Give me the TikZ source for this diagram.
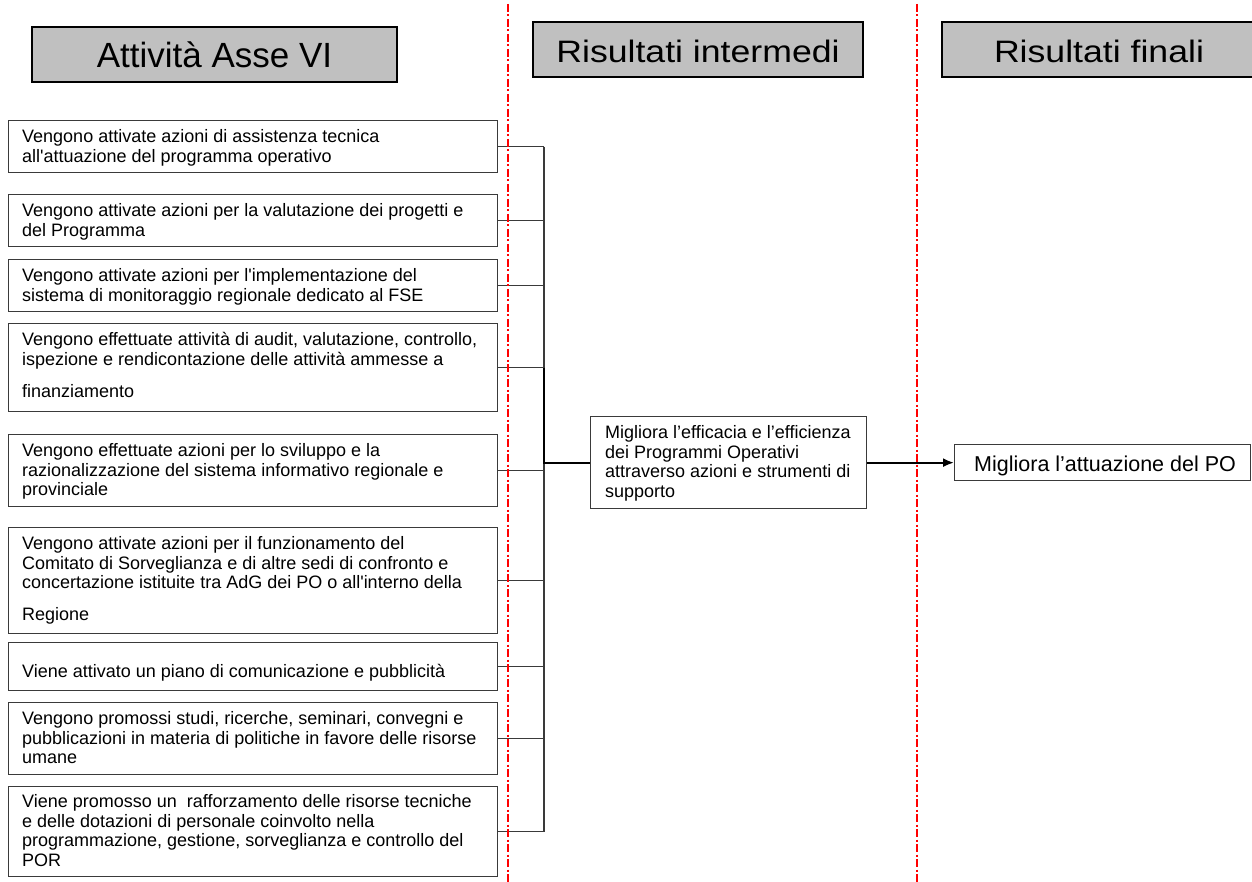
\documentclass[tikz,border=0pt]{standalone}
\usepackage{fontspec}
\setmainfont{Liberation Sans}
\usetikzlibrary{arrows.meta}
\definecolor{hdrgray}{HTML}{C0C0C0}
\definecolor{linegray}{HTML}{3A3A3A}
\definecolor{sepred}{HTML}{FF0000}
\newcommand{\sq}{\textquotesingle}
\tikzset{
  hdr/.style={draw=black, line width=2pt, fill=hdrgray, inner sep=0pt, text height=27pt, text depth=0pt},
  abox/.style={draw=linegray, line width=1.3pt, inner sep=0pt, anchor=north west},
  btxt/.style={anchor=base west, align=left, inner sep=0pt, font=\fontsize{18}{19.7}\selectfont},
  conn/.style={draw=linegray, line width=1.1pt},
  thickconn/.style={draw=black, line width=2pt},
  sepline/.style={draw=sepred, line width=2pt, dash pattern=on 8pt off 2.5pt on 2pt off 2.5pt},
}
\begin{document}
\begin{tikzpicture}[x=1pt,y=-1pt]
\useasboundingbox (0,0) rectangle (1252,882);
\fill[white] (0,0) rectangle (1252,882);

% headers
\node[hdr, minimum width=365pt, minimum height=55pt, font=\fontsize{35}{40}\selectfont] (h1) at (214.5,54.5) {Attività Asse VI};
\node[hdr, minimum width=330pt, minimum height=55pt] (h2) at (698,49.5) {\scalebox{1.15}[1]{\fontsize{31}{36}\selectfont Risultati intermedi}};
\node[hdr, minimum width=314pt, minimum height=55pt] (h3) at (1099,49.5) {\scalebox{1.15}[1]{\fontsize{31}{36}\selectfont Risultati finali}};

% activity boxes
\node[abox, minimum width=489pt, minimum height=52pt] (b1) at (8,120) {};
\node[abox, minimum width=489pt, minimum height=52pt] (b2) at (8,194) {};
\node[abox, minimum width=489pt, minimum height=52pt] (b3) at (8,259) {};
\node[abox, minimum width=489pt, minimum height=88pt] (b4) at (8,323) {};
\node[abox, minimum width=489pt, minimum height=72pt] (b5) at (8,434) {};
\node[abox, minimum width=489pt, minimum height=106pt] (b6) at (8,527) {};
\node[abox, minimum width=489pt, minimum height=48pt] (b7) at (8,642) {};
\node[abox, minimum width=489pt, minimum height=72pt] (b8) at (8,702) {};
\node[abox, minimum width=489pt, minimum height=90pt] (b9) at (8,786) {};

% texts (anchored at the baseline of their last line)
\node[btxt] (t1) at (22,162.2) {Vengono attivate azioni di assistenza tecnica\\all\sq attuazione del programma operativo};
\node[btxt] (t2) at (22,236.2) {Vengono attivate azioni per la valutazione dei progetti e\\del Programma};
\node[btxt] (t3) at (22,301.2) {Vengono attivate azioni per l\sq implementazione del\\sistema di monitoraggio regionale dedicato al FSE};
\node[btxt] (t4) at (22,397.9) {Vengono effettuate attività di audit, valutazione, controllo,\\ispezione e rendicontazione delle attività ammesse a\\[13pt]finanziamento};
\node[btxt] (t5) at (22,495.9) {Vengono effettuate azioni per lo sviluppo e la\\razionalizzazione del sistema informativo regionale e\\provinciale};
\node[btxt] (t6) at (22,620.9) {Vengono attivate azioni per il funzionamento del\\Comitato di Sorveglianza e di altre sedi di confronto e\\concertazione istituite tra AdG dei PO o all\sq interno della\\[12.3pt]Regione};
\node[btxt] (t7) at (22,677.5) {Viene attivato un piano di comunicazione e pubblicità};
\node[btxt] (t8) at (22,763.9) {Vengono promossi studi, ricerche, seminari, convegni e\\pubblicazioni in materia di politiche in favore delle risorse\\umane};
\node[btxt] (t9) at (22,866.6) {Viene promosso un\ \ rafforzamento delle risorse tecniche\\e delle dotazioni di personale coinvolto nella\\programmazione, gestione, sorveglianza e controllo del\\POR};

% intermediate result
\node[abox, minimum width=276pt, minimum height=92pt] (m) at (590,416) {};
\node[btxt] (mt) at (605,497.6) {Migliora l’efficacia e l’efficienza\\dei Programmi Operativi\\attraverso azioni e strumenti di\\supporto};

% final result
\node[abox, minimum width=296pt, minimum height=36pt] (f) at (954,444) {};
\node[btxt, font=\fontsize{21.5}{24}\selectfont] (ft) at (974,471) {Migliora l’attuazione del PO};

% connectors
\coordinate (bus) at (544,0);
\foreach \i in {1,...,9} {
  \draw[conn] (b\i.east) -- (b\i.east -| bus);
}
\draw[conn] (b1.east -| bus) -- (b9.east -| bus);
\draw[thickconn] (b4.east -| bus) |- (m.west);
\draw[thickconn, -{Latex[length=11pt,width=9pt]}] (m.east) -- (f.west);

% separators
\coordinate (s1t) at (508,4);
\coordinate (s1b) at (508,882);
\coordinate (s2t) at (917,4);
\coordinate (s2b) at (917,882);
\draw[sepline] (s1t) -- (s1b);
\draw[sepline] (s2t) -- (s2b);
\end{tikzpicture}
\end{document}
